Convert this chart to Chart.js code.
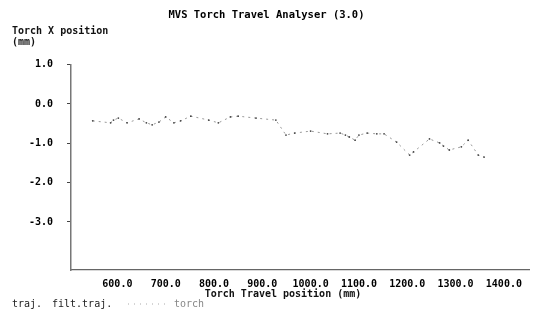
<!DOCTYPE html>
<html>
<head>
<meta charset="utf-8">
<script src="https://cdn.jsdelivr.net/npm/chart.js@4.4.1/dist/chart.umd.min.js"></script>
<style>
  html, body { margin: 0; padding: 0; background: #fff; }
  #wrap { width: 533px; height: 311px; position: relative; }
</style>
</head>
<body>
<div id="wrap"><canvas id="chart"></canvas></div>
<script>
// torch travel position (mm) and torch X position (mm)
const travelPos = [549, 586, 592, 602, 620, 645, 660, 672, 686, 700, 717, 731, 752, 789, 809, 834,
  850, 887, 928, 949, 967, 1000, 1035, 1061, 1072, 1080, 1092, 1100, 1117, 1137, 1152, 1178,
  1205, 1213, 1246, 1267, 1275, 1287, 1312, 1326, 1347, 1359];
const torchX = [-0.43, -0.48, -0.41, -0.36, -0.48, -0.38, -0.48, -0.53, -0.46, -0.33, -0.48, -0.43,
  -0.31, -0.41, -0.48, -0.33, -0.31, -0.36, -0.41, -0.79, -0.74, -0.69, -0.76, -0.74, -0.79, -0.84,
  -0.92, -0.79, -0.74, -0.76, -0.76, -0.97, -1.30, -1.22, -0.89, -0.99, -1.07, -1.17, -1.09, -0.92,
  -1.30, -1.35];
const xTicks = [600, 700, 800, 900, 1000, 1100, 1200, 1300, 1400];
const yTicks = [1, 0, -1, -2, -3];

const monoFont = "'DejaVu Sans Mono', 'Liberation Mono', monospace";

const extraText = {
  id: "extraText",
  afterDraw(chart) {
    const ctx = chart.ctx;
    ctx.save();
    ctx.fillStyle = "#111";
    ctx.textBaseline = "middle";
    ctx.font = "bold 10px " + monoFont;
    ctx.fillText("Torch X position", 12, 31);
    ctx.fillText("(mm)", 12, 42);
    ctx.textAlign = "center";
    ctx.fillText("Torch Travel position (mm)", 283, 294);

    // legend row
    ctx.textAlign = "left";
    ctx.font = "10px " + monoFont;
    ctx.fillStyle = "#222";
    ctx.fillText("traj.", 12, 304);
    ctx.fillText("filt.traj.", 52, 304);
    ctx.strokeStyle = "#aaa";
    ctx.lineWidth = 1;
    ctx.setLineDash([1, 5]);
    ctx.beginPath();
    ctx.moveTo(128, 304);
    ctx.lineTo(170, 304);
    ctx.stroke();
    ctx.fillStyle = "#888";
    ctx.fillText("torch", 174, 304);
    ctx.restore();
  }
};

new Chart(document.getElementById("chart"), {
  type: "line",
  data: {
    datasets: [{
      label: "traj.",
      data: travelPos.map((x, i) => ({ x: x, y: torchX[i] })),
      borderColor: "#999",
      borderWidth: 1,
      borderDash: [2, 4],
      pointRadius: 0.9,
      pointBorderWidth: 0,
      pointBackgroundColor: "#444",
      tension: 0
    }]
  },
  options: {
    responsive: true,
    maintainAspectRatio: false,
    animation: false,
    layout: { padding: 0 },
    plugins: {
      legend: { display: false },
      tooltip: { enabled: false },
      title: {
        display: true,
        text: "MVS Torch Travel Analyser (3.0)",
        color: "#000",
        font: { family: monoFont, size: 10.5, weight: "bold" },
        padding: { top: 9, bottom: 43 }
      }
    },
    scales: {
      x: {
        type: "linear",
        min: 504,
        max: 1452,
        afterBuildTicks: (scale) => { scale.ticks = xTicks.map((v) => ({ value: v })); },
        afterFit: (scale) => { scale.height = 41; },
        grid: { display: false, drawTicks: false },
        border: { display: true, color: "#666", width: 1.2, dash: [6, 3] },
        ticks: {
          color: "#000",
          padding: 8,
          maxRotation: 0,
          autoSkip: false,
          font: { family: monoFont, size: 10, weight: "bold" },
          callback: (v) => Number(v).toFixed(1)
        }
      },
      y: {
        min: -4.22,
        max: 1.0,
        afterBuildTicks: (scale) => { scale.ticks = yTicks.map((v) => ({ value: v })); },
        afterFit: (scale) => { scale.width = 71; },
        grid: { display: true, drawOnChartArea: false, drawTicks: true, tickLength: 4, color: "#444" },
        border: { display: true, color: "#777", width: 1.5 },
        ticks: {
          color: "#000",
          padding: 14,
          font: { family: monoFont, size: 10, weight: "bold" },
          callback: (v) => Number(v).toFixed(1)
        }
      }
    }
  },
  plugins: [extraText]
});
</script>
</body>
</html>
